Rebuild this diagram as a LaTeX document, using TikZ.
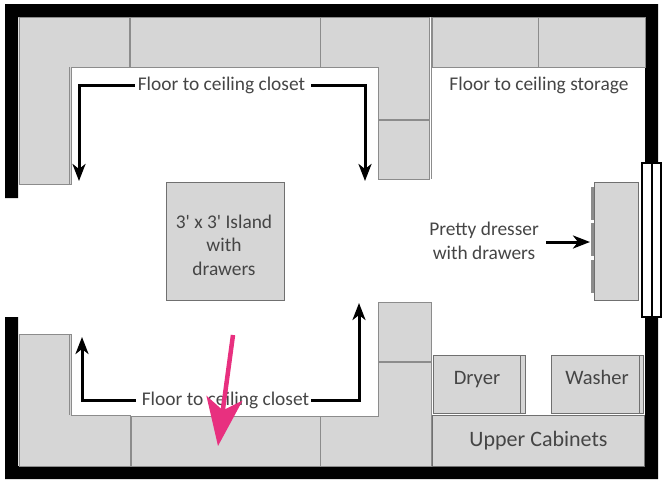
\documentclass[tikz,border=0pt]{standalone}
\usepackage{fontspec}
\usepackage{xcolor}
\setmainfont{Carlito}
\usetikzlibrary{arrows.meta,scopes}
\definecolor{cabinetgray}{HTML}{D6D6D6}
\definecolor{edgegray}{HTML}{8C8C8C}
\definecolor{labelgray}{HTML}{454545}
\definecolor{pinkmark}{HTML}{E8307F}

\begin{document}
\begin{tikzpicture}[
    x=1pt,y=-1pt,
    wall/.style={fill=black},
    cabinet/.style={draw=edgegray,fill=cabinetgray,line width=.9pt},
    unit/.style={rectangle,draw=edgegray!80!black,fill=cabinetgray,line width=1pt,inner sep=0pt,text=labelgray,align=center},
    label/.style={text=labelgray,font=\fontsize{19.4}{23.5}\selectfont,inner sep=0pt,align=center},
    pointer/.style={draw=black,line width=3pt,-{Stealth[length=17pt,width=13pt,inset=5pt]}},
    window/.style={draw=black,fill=white,line width=1.2pt},]
\useasboundingbox (0,0) rectangle (664,483);
    % walls
    \fill[wall] (5,198) -- (5,4) -- (658,4) -- (658,163) -- (645,163) -- (645,17) -- (18,17) -- (18,198) -- cycle;
    \fill[wall] (5,317) -- (5,479) -- (658,479) -- (658,317) -- (645,317) -- (645,466) -- (18,466) -- (18,317) -- cycle;
    \draw[window] (642,163) rectangle (661,317);
    \draw[window] (652,163) -- (652,317);
    % upper closets
    \draw[cabinet] (19,17) -- (129,17) -- (129,67) -- (71,67) -- (71,184) -- (19,184) -- cycle;
    \draw[edgegray] (69,67) -- (69,184);
    \draw[cabinet] (130,17) rectangle (320,67);
    \draw[cabinet] (320,17) -- (429,17) -- (429,119) -- (378,119) -- (378,67) -- (320,67) -- cycle;
    \draw[cabinet] (378,120) rectangle (429,179);
    \draw[edgegray] (431,17) -- (431,179);
    \draw[cabinet] (432,17) rectangle (538,67);
    \draw[cabinet] (538,17) rectangle (645,67);
    % lower closets
    \draw[cabinet] (19,334) -- (71,334) -- (71,415) -- (130,415) -- (130,466) -- (19,466) -- cycle;
    \draw[edgegray] (69,334) -- (69,415);
    \draw[cabinet] (131,416) rectangle (320,466);
    \draw[cabinet] (320,466) -- (320,416) -- (378,416) -- (378,362) -- (431,362) -- (431,466) -- cycle;
    \draw[cabinet] (378,302) rectangle (431,361);
    % appliances
    \node[unit,minimum width=92pt,minimum height=58pt,anchor=north west] (dryer) at (433,355) {};
    \node[unit,minimum width=92pt,minimum height=58pt,anchor=north west] (washer) at (551,355) {};
    \draw[edgegray!80!black] (520,355) -- (520,413);
    \draw[edgegray!80!black] (639,355) -- (639,413);
    \node[label,anchor=base,font=\fontsize{20.5}{23}\selectfont] (dryertext) at (477,384) {Dryer};
    \node[label,anchor=base,font=\fontsize{20.5}{23}\selectfont] (washertext) at (597,384) {Washer};
    \node[unit,minimum width=212pt,minimum height=51pt,anchor=north west,font=\fontsize{22}{24}\selectfont] (upper) at (432,415) {Upper Cabinets};
    % island and dresser
    \node[unit,minimum size=118pt,anchor=north west] (island) at (166,182) {};
    \node[label] (islandtext) at (224,245) {3\textquotesingle{} x 3\textquotesingle{} Island\\with\\drawers};
    \node[unit,minimum width=44pt,minimum height=118pt,anchor=north west] (dresser) at (594,182) {};
    \foreach \ytop in {187,223,260}
        \fill[edgegray] (591,\ytop) rectangle (594,\ytop+33);
    % labels
    \node[label] (topcloset) at (221.5,85) {Floor to ceiling closet};
    \node[label] (bottomcloset) at (225.5,400) {Floor to ceiling closet};
    \node[label] (storage) at (539,85) {Floor to ceiling storage};
    \node[label] (dressertext) at (484,241) {Pretty dresser\\with drawers};
    \coordinate (topleft) at (79,181);
    \coordinate (topright) at (365,181);
    \coordinate (bottomleft) at (82,337);
    \coordinate (bottomright) at (359,303);
    \coordinate (dresserend) at (590,242);
    \coordinate (pinkstart) at (233,335);
    \coordinate (pinkend) at (218,446);
    % arrows
    {[pointer]
        \draw ([xshift=-3pt]topcloset.west) -| (topleft);
        \draw ([xshift=6pt]topcloset.east) -| (topright);
        \draw ([xshift=-6pt]bottomcloset.west) -| (bottomleft);
        \draw ([xshift=2pt]bottomcloset.east) -| (bottomright);
        \draw (546,242) -- (dresserend);
    };
    \draw[draw=pinkmark,line width=4.5pt,-{Stealth[length=48pt,width=36pt,inset=12pt]}] (pinkstart) -- (pinkend);
\end{tikzpicture}
\end{document}
